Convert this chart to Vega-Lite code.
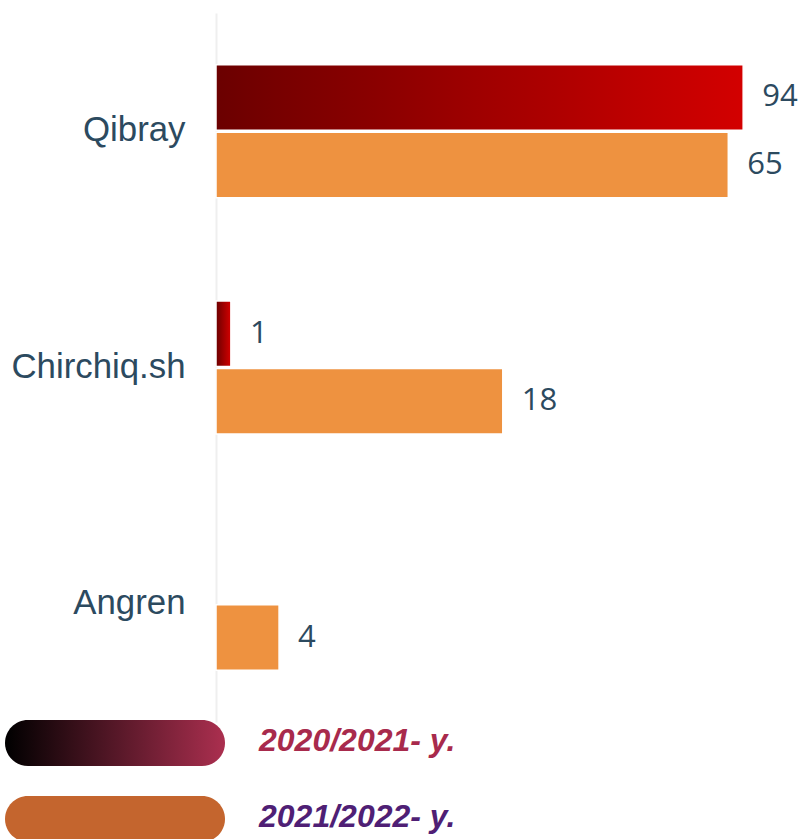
{
  "$schema": "https://vega.github.io/schema/vega-lite/v6.json",
  "autosize": "none",
  "width": 595,
  "height": 709,
  "padding": {"left": 216, "top": 13, "right": 0, "bottom": 117},
  "background": "white",
  "config": {"view": {"stroke": null}},
  "datasets": {
    "bars": [
      {"district": "Qibray", "season": "2020/2021", "value": 94, "length": 88.6},
      {"district": "Qibray", "season": "2021/2022", "value": 65, "length": 86.1},
      {"district": "Chirchiq.sh", "season": "2020/2021", "value": 1, "length": 2.5},
      {"district": "Chirchiq.sh", "season": "2021/2022", "value": 18, "length": 48.2},
      {"district": "Angren", "season": "2021/2022", "value": 4, "length": 10.6}
    ],
    "legend": [
      {"season": "2020/2021", "label": "2020/2021- y."},
      {"season": "2021/2022", "label": "2021/2022- y."}
    ]
  },
  "layer": [
    {
      "data": {"name": "bars"},
      "encoding": {
        "y": {
          "field": "district",
          "type": "nominal",
          "scale": {"domain": ["Qibray", "Chirchiq.sh", "Angren"], "paddingInner": 0.437, "paddingOuter": 0.2185},
          "axis": {
            "title": null,
            "ticks": false,
            "labelFont": "Liberation Sans",
            "labelFontSize": 34.8,
            "labelColor": "#2c4a5f",
            "labelPadding": 31,
            "labelLimit": 400,
            "domain": true,
            "domainColor": "#efefef",
            "domainWidth": 2,
            "grid": false
          }
        },
        "yOffset": {
          "field": "season",
          "type": "nominal",
          "scale": {"domain": ["2020/2021", "2021/2022"], "paddingInner": 0.03, "paddingOuter": 0}
        },
        "x": {
          "field": "length",
          "type": "quantitative",
          "scale": {"domain": [0, 100], "nice": false, "zero": true},
          "axis": null
        }
      },
      "layer": [
        {
          "transform": [{"filter": "datum.season === '2020/2021'"}],
          "mark": {
            "type": "bar",
            "fill": {
              "gradient": "linear",
              "x1": 0, "y1": 0, "x2": 1, "y2": 0,
              "stops": [
                {"offset": 0, "color": "#6b0000"},
                {"offset": 1, "color": "#d30000"}
              ]
            },
            "stroke": "#ffffff",
            "strokeWidth": 1.5
          }
        },
        {
          "transform": [{"filter": "datum.season === '2021/2022'"}],
          "mark": {"type": "bar", "fill": "#ee9240", "stroke": "#ffffff", "strokeWidth": 1.5}
        },
        {
          "mark": {
            "type": "text",
            "align": "left",
            "baseline": "middle",
            "dx": 19,
            "font": "Open Sans",
            "fontSize": 31,
            "color": "#2c4a5f"
          },
          "encoding": {"text": {"field": "value", "type": "quantitative"}}
        }
      ]
    },
    {
      "data": {"name": "legend"},
      "encoding": {
        "y": {
          "field": "season",
          "type": "nominal",
          "scale": {"domain": ["2020/2021", "2021/2022"], "range": [707, 829], "paddingInner": 0.395, "paddingOuter": 0},
          "axis": null
        }
      },
      "layer": [
        {
          "transform": [{"filter": "datum.season === '2020/2021'"}],
          "mark": {
            "type": "bar",
            "cornerRadius": 23,
            "fill": {
              "gradient": "linear",
              "x1": 0, "y1": 0, "x2": 1, "y2": 0,
              "stops": [
                {"offset": 0, "color": "#000000"},
                {"offset": 1, "color": "#ab2f4f"}
              ]
            }
          },
          "encoding": {
            "x": {"datum": 0, "type": "quantitative", "scale": {"domain": [0, 1], "range": [-211, 9], "nice": false, "zero": false}, "axis": null},
            "x2": {"datum": 1}
          }
        },
        {
          "transform": [{"filter": "datum.season === '2021/2022'"}],
          "mark": {"type": "bar", "cornerRadius": 23, "fill": "#c4652e"},
          "encoding": {
            "x": {"datum": 0, "type": "quantitative", "axis": null},
            "x2": {"datum": 1}
          }
        },
        {
          "mark": {
            "type": "text",
            "align": "left",
            "baseline": "middle",
            "dx": 34,
            "dy": -2,
            "font": "Liberation Sans",
            "fontSize": 32,
            "fontWeight": "bold",
            "fontStyle": "italic"
          },
          "encoding": {
            "x": {"datum": 1, "type": "quantitative", "axis": null},
            "text": {"field": "label", "type": "nominal"},
            "color": {
              "field": "season",
              "type": "nominal",
              "scale": {"domain": ["2020/2021", "2021/2022"], "range": ["#a82a4c", "#4f1f75"]},
              "legend": null
            }
          }
        }
      ]
    }
  ],
  "resolve": {"scale": {"x": "independent", "y": "independent"}}
}
